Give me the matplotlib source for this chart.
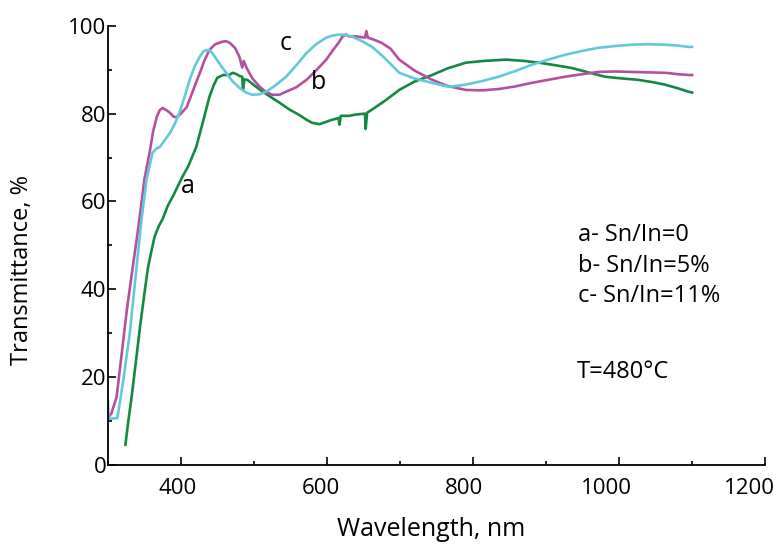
import matplotlib.pyplot as plt
from matplotlib.ticker import MultipleLocator
from matplotlib.transforms import ScaledTranslation

plt.rcParams['font.family'] = ['Open Sans', 'DejaVu Sans']

# curve a - Sn/In=0
wl_a = [324, 328, 332, 338, 344, 350, 355, 360, 364, 370, 375, 382, 390, 402, 410, 421, 430, 439,
        445, 450, 458, 466, 471, 476, 480, 484, 485, 487, 491, 500, 512, 523, 535, 548, 562, 572,
        580, 590, 600, 607, 616, 617, 619, 630, 640, 652, 653, 655, 665, 680, 699, 720, 744, 765,
        790, 815, 845, 870, 890, 910, 935, 960, 981, 1005, 1026, 1045, 1063, 1080, 1095, 1100]
tr_a = [4.6, 10, 14.8, 23, 31.4, 39, 45, 49, 52, 54.5, 56, 59, 61.5, 65.6, 68, 72.4, 78, 83.8,
        86.5, 88.2, 88.8, 88.8, 89.3, 89, 88.6, 88.4, 85.5, 87.8, 87.7, 86.5, 85, 83.8, 82.5, 81, 79.7, 78.6,
        77.9, 77.6, 78.2, 78.6, 79, 77.5, 79.5, 79.5, 79.8, 80, 76.5, 80.2, 81.3, 83, 85.4, 87.3, 88.8, 90.3,
        91.6, 92, 92.3, 92, 91.6, 91.1, 90.4, 89.3, 88.4, 88, 87.7, 87.2, 86.6, 85.8, 85, 84.8]

# curve b - Sn/In=5%
wl_b = [300, 305, 312, 318, 326, 334, 340, 344, 350, 357, 362, 367, 371, 375, 380, 385, 390, 394,
        400, 408, 416, 426, 432, 439, 447, 457, 462, 467, 474, 480, 484, 486, 490, 498, 508, 516,
        525, 535, 544, 558, 572, 585, 599, 608, 617, 621, 626, 630, 640, 652, 654, 656, 665, 675,
        687, 699, 720, 744, 765, 790, 812, 835, 858, 880, 903, 926, 950, 972, 995, 1017, 1040,
        1063, 1080, 1095, 1100]
tr_b = [10.7, 11.8, 15.5, 24, 35.3, 45, 52, 57, 65, 71, 76, 79.3, 80.8, 81.3, 80.8, 80.2, 79.3, 79.2,
        80, 81.5, 85, 89.3, 92, 94.5, 95.8, 96.4, 96.5, 96.1, 95, 93, 90.5, 92, 90.4, 88, 86.1, 85,
        84.3, 84.3, 85, 86, 87.7, 89.8, 92.3, 94.4, 96.4, 97.5, 98, 97.6, 97.6, 97.3, 98.8, 97.3, 96.8, 96.1,
        94.8, 92.3, 89.8, 87.7, 86.3, 85.4, 85.3, 85.6, 86.2, 87, 87.7, 88.4, 89, 89.5, 89.6, 89.5, 89.4,
        89.3, 89, 88.8, 88.8]

# curve c - Sn/In=11%
wl_c = [300, 301, 313, 320, 330, 338, 346, 353, 361, 366, 371, 378, 385, 392, 398, 405, 412, 419,
        426, 431, 435, 439, 443, 452, 462, 470, 480, 489, 498, 507, 517, 530, 544, 558, 572, 585,
        599, 608, 617, 626, 635, 648, 662, 680, 699, 720, 744, 767, 790, 812, 835, 858, 880, 903,
        926, 950, 972, 995, 1017, 1040, 1063, 1080, 1095, 1100]
tr_c = [14.8, 10.5, 10.7, 18, 30, 43, 55.8, 65, 71, 72, 72.4, 74, 75.6, 77.8, 80.2, 83.8, 87.7, 90.8,
        93, 94.2, 94.5, 94.4, 93.8, 91.6, 89.3, 87.5, 85.9, 84.8, 84.3, 84.4, 85, 86.5, 88.4, 91, 93.8, 95.8,
        97.3, 97.8, 98, 97.9, 97.5, 96.5, 95.2, 92.5, 89.3, 88, 87, 86.1, 86.6, 87.4, 88.4, 89.7, 91.1, 92.3,
        93.4, 94.3, 95, 95.4, 95.7, 95.8, 95.7, 95.5, 95.2, 95.2]

x_ticks = [400, 600, 800, 1000, 1200]
legend_lines = ['a- Sn/In=0', 'b- Sn/In=5%', 'c- Sn/In=11%']

fig = plt.figure(figsize=(7.76, 5.49), dpi=100)
ax = fig.add_axes([0.139, 0.153, 0.847, 0.8])

ax.plot(wl_a, tr_a, color='#138a40', lw=1.9)
ax.plot(wl_b, tr_b, color='#b5509f', lw=1.9)
ax.plot(wl_c, tr_c, color='#62c9d9', lw=1.9)

ax.text(409, 63.5, 'a', fontsize=18, ha='center', va='center')
ax.text(588, 87, 'b', fontsize=18, ha='center', va='center')
ax.text(544, 96, 'c', fontsize=18, ha='center', va='center')

for i, s in enumerate(legend_lines):
    ax.text(944, 52.4 - i * 7.0, s, fontsize=17, ha='left', va='center')
ax.text(942, 21.2, 'T=480°C', fontsize=17, ha='left', va='center')

ax.set_xlim(300, 1200)
ax.set_ylim(0, 100)
ax.set_xticks(x_ticks)
ax.xaxis.set_minor_locator(MultipleLocator(100))
ax.yaxis.set_major_locator(MultipleLocator(20))
ax.yaxis.set_minor_locator(MultipleLocator(10))
ax.tick_params(which='both', direction='in', labelsize=16, width=1.2)
ax.tick_params(which='major', length=6)
ax.tick_params(which='minor', length=3)
ax.tick_params(axis='x', pad=9)
ax.tick_params(axis='y', pad=1)
for side in ['top', 'right']:
    ax.spines[side].set_visible(False)
for side in ['left', 'bottom']:
    ax.spines[side].set_linewidth(1.3)

# labels in the original drift slightly left of their ticks
fig.canvas.draw()
for i, lab in enumerate(ax.get_xticklabels()):
    shift = -(3 + 3.2 * i) / 100
    lab.set_transform(lab.get_transform() + ScaledTranslation(shift, 0, fig.dpi_scale_trans))

ax.set_xlabel('Wavelength, nm', fontsize=18)
ax.set_ylabel('Transmittance, %', fontsize=17)
ax.xaxis.set_label_coords(0.492, -0.118)
ax.yaxis.set_label_coords(-0.112, 0.444)

fig.savefig('out.png', dpi=100)
